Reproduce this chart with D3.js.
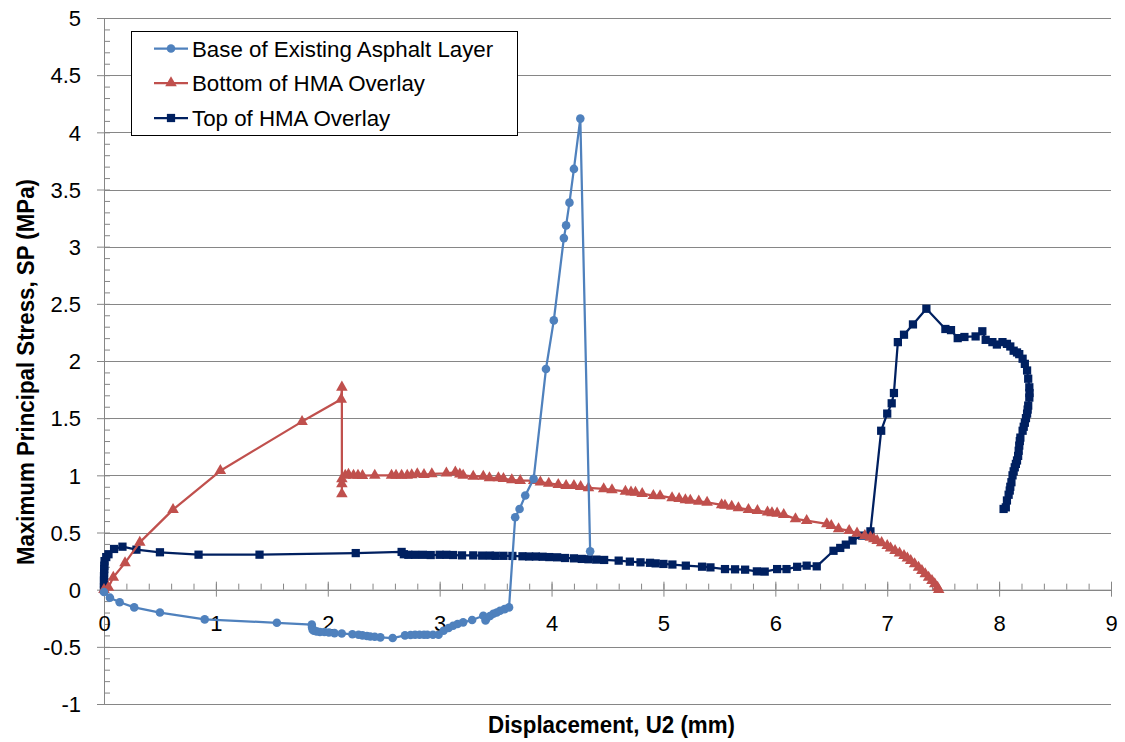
<!DOCTYPE html>
<html>
<head>
<meta charset="utf-8">
<script src="https://cdn.jsdelivr.net/npm/d3@7"></script>
<style>
  html, body { margin: 0; padding: 0; background: #fff; }
  svg { display: block; }
  text { font-family: "Liberation Sans", Arial, sans-serif; fill: #000; }
</style>
</head>
<body>
<svg id="chart" width="1125" height="742"></svg>
<script>
// ---------------- data ----------------
const seriesNames = ["Base of Existing Asphalt Layer", "Bottom of HMA Overlay", "Top of HMA Overlay"];
const seriesColors = ["#4F81BD", "#C0504D", "#002060"];

const xTicks = [0, 1, 2, 3, 4, 5, 6, 7, 8, 9];
const yTicks = [-1, -0.5, 0, 0.5, 1, 1.5, 2, 2.5, 3, 3.5, 4, 4.5, 5];
const xTickLabels = ["0", "1", "2", "3", "4", "5", "6", "7", "8", "9"];
const yTickLabels = ["-1", "-0.5", "0", "0.5", "1", "1.5", "2", "2.5", "3", "3.5", "4", "4.5", "5"];

// Base of Existing Asphalt Layer  [U2 (mm), SP (MPa)]
const baseLayer = [
  [0,-0.02],[0.053,-0.07],[0.14,-0.11],[0.27,-0.155],[0.5,-0.2],[0.9,-0.26],[1.545,-0.29],[1.857,-0.306],
  [1.86,-0.33],[1.865,-0.35],[1.875,-0.36],[1.9,-0.365],[1.93,-0.37],[1.97,-0.37],[2.01,-0.375],[2.06,-0.38],
  [2.125,-0.383],[2.22,-0.39],[2.275,-0.394],[2.31,-0.4],[2.35,-0.405],[2.38,-0.41],[2.42,-0.412],[2.47,-0.417],
  [2.58,-0.423],[2.69,-0.4],[2.74,-0.397],[2.78,-0.394],[2.82,-0.394],[2.86,-0.394],[2.89,-0.394],[2.94,-0.394],
  [2.99,-0.394],[3.035,-0.36],[3.08,-0.335],[3.12,-0.315],[3.16,-0.3],[3.21,-0.286],[3.29,-0.265],[3.39,-0.228],
  [3.41,-0.27],[3.42,-0.25],[3.45,-0.23],[3.48,-0.21],[3.51,-0.2],[3.54,-0.184],[3.58,-0.17],[3.62,-0.155],
  [3.675,0.633],[3.714,0.706],[3.765,0.823],[3.84,0.969],[3.95,1.93],[4.02,2.355],[4.11,3.075],[4.13,3.186],
  [4.16,3.385],[4.2,3.68],[4.257,4.12],[4.345,0.335]
];

// Bottom of HMA Overlay
const bottomOverlay = [
  [0,0],[0.04,0.02],[0.083,0.108],[0.188,0.234],[0.32,0.414],[0.617,0.70],[1.04,1.04],[1.77,1.47],[2.12,1.665],
  [2.126,1.77],[2.126,0.838],[2.126,0.925],[2.126,0.969],[2.156,1.0],[2.185,1.007],[2.23,1.0],[2.27,1.0],
  [2.31,0.997],[2.42,1.0],[2.57,1.0],[2.61,1.0],[2.66,1.0],[2.71,1.0],[2.75,1.003],[2.8,1.013],[2.86,1.005],
  [2.93,1.013],[3.06,1.018],[3.14,1.027],[3.18,1.01],[3.21,1.0],[3.30,0.99],[3.39,0.99],[3.445,0.977],
  [3.525,0.977],[3.57,0.97],[3.645,0.96],[3.72,0.954],[3.84,0.954],[3.9,0.94],[3.975,0.93],[4.06,0.919],
  [4.13,0.91],[4.2,0.91],[4.26,0.9],[4.33,0.89],[4.466,0.881],[4.54,0.873],[4.66,0.86],[4.71,0.853],
  [4.75,0.85],[4.81,0.84],[4.91,0.823],[4.97,0.82],[5.077,0.803],[5.14,0.795],[5.196,0.785],[5.24,0.78],
  [5.316,0.773],[5.39,0.764],[5.52,0.741],[5.55,0.737],[5.61,0.729],[5.67,0.715],[5.76,0.70],[5.84,0.69],
  [5.93,0.677],[5.97,0.672],[6.016,0.668],[6.075,0.656],[6.18,0.619],[6.28,0.604],[6.46,0.575],[6.5,0.56],
  [6.565,0.531],[6.66,0.516],[6.73,0.493],[6.8,0.472],[6.85,0.458],[6.88,0.443],[6.91,0.429],[6.95,0.41],
  [7.0,0.385],[7.03,0.362],[7.07,0.341],[7.11,0.32],[7.15,0.298],[7.18,0.276],[7.21,0.254],[7.245,0.225],
  [7.28,0.195],[7.31,0.166],[7.34,0.137],[7.37,0.108],[7.40,0.079],[7.425,0.05],[7.45,0.02],[7.46,0.0]
];

// Top of HMA Overlay
const topOverlay = [
  [0,0],[0,0.02],[0,0.05],[0,0.08],[0,0.12],[0.001,0.15],[0.002,0.18],[0.003,0.21],[0.005,0.25],[0.02,0.285],
  [0.04,0.31],[0.09,0.356],[0.165,0.376],[0.29,0.35],[0.5,0.327],[0.845,0.306],[1.39,0.306],[2.25,0.32],
  [2.66,0.33],[2.68,0.31],[2.72,0.305],[2.78,0.305],[2.85,0.305],[2.92,0.303],[3.0,0.305],[3.06,0.305],
  [3.12,0.303],[3.2,0.3],[3.3,0.3],[3.38,0.298],[3.45,0.298],[3.5,0.296],[3.57,0.296],[3.65,0.295],
  [3.74,0.292],[3.8,0.29],[3.86,0.29],[3.92,0.288],[3.98,0.285],[4.05,0.283],[4.12,0.277],[4.2,0.274],
  [4.27,0.269],[4.33,0.266],[4.4,0.263],[4.47,0.26],[4.6,0.254],[4.7,0.245],[4.795,0.239],[4.88,0.235],
  [4.93,0.23],[5.0,0.225],[5.08,0.22],[5.2,0.21],[5.345,0.201],[5.42,0.195],[5.55,0.18],[5.64,0.178],
  [5.73,0.175],[5.835,0.16],[5.905,0.158],[6.016,0.18],[6.1,0.18],[6.195,0.2],[6.28,0.21],[6.37,0.204],
  [6.52,0.34],[6.58,0.365],[6.63,0.394],[6.69,0.43],[6.776,0.473],[6.85,0.51],[6.946,1.39],[7.0,1.54],
  [7.04,1.63],[7.06,1.72],[7.095,2.165],[7.15,2.23],[7.23,2.32],[7.35,2.457],[7.52,2.28],[7.57,2.27],
  [7.63,2.2],[7.69,2.21],[7.79,2.215],[7.85,2.26],[7.88,2.185],[7.94,2.165],[7.98,2.144],[8.03,2.165],
  [8.07,2.15],[8.1,2.127],[8.13,2.09],[8.16,2.075],[8.18,2.06],[8.21,2.02],[8.23,1.975],[8.25,1.917],
  [8.26,1.845],[8.27,1.77],[8.272,1.72],[8.27,1.68],[8.26,1.61],[8.255,1.575],[8.25,1.54],[8.24,1.5],
  [8.23,1.46],[8.22,1.425],[8.21,1.39],[8.19,1.33],[8.185,1.3],[8.18,1.26],[8.175,1.215],[8.17,1.17],
  [8.16,1.13],[8.15,1.1],[8.14,1.07],[8.13,1.035],[8.12,1.0],[8.11,0.94],[8.1,0.9],[8.095,0.867],
  [8.085,0.83],[8.07,0.78],[8.06,0.72],[8.04,0.706]
];

const allSeries = [baseLayer, bottomOverlay, topOverlay];

// ---------------- layout ----------------
const svg = d3.select("#chart");
const x = d3.scaleLinear().domain([0, 9]).range([104, 1111]);
const y = d3.scaleLinear().domain([-1, 5]).range([704, 18]);
const gridColor = "#868686";

// gridlines
svg.append("g").selectAll("line").data(yTicks).join("line")
  .attr("x1", x(0)).attr("x2", x(9))
  .attr("y1", d => Math.round(y(d)) + 0.5).attr("y2", d => Math.round(y(d)) + 0.5)
  .attr("stroke", gridColor).attr("stroke-width", 1);

// y axis: major ticks outside with labels, minor ticks inside
const yMinor = d3.range(-10, 51).map(v => v / 10);
const yAxisG = svg.append("g").attr("transform", `translate(${x(0)},0)`)
  .call(d3.axisLeft(y).tickValues(yTicks).tickSizeInner(7).tickSizeOuter(0).tickPadding(16)
    .tickFormat((d, i) => yTickLabels[i]));
svg.append("g").attr("transform", `translate(${x(0)},0)`)
  .call(d3.axisLeft(y).tickValues(yMinor).tickSizeInner(-6).tickSizeOuter(0).tickFormat(""))
  .call(g => g.select(".domain").remove());

// x axis at y = 0
const xMinor = d3.range(0, 46).map(v => v / 5);
const xAxisG = svg.append("g").attr("transform", `translate(0,${y(0)})`)
  .call(d3.axisBottom(x).tickValues(xTicks).tickSizeInner(7).tickSizeOuter(0)
    .tickFormat((d, i) => xTickLabels[i]));
svg.append("g").attr("transform", `translate(0,${y(0)})`)
  .call(d3.axisBottom(x).tickValues(xMinor).tickSizeInner(-6).tickSizeOuter(0).tickFormat(""))
  .call(g => g.select(".domain").remove());
svg.append("g").attr("transform", `translate(0,${y(0)})`)
  .call(d3.axisBottom(x).tickValues(xTicks).tickSizeInner(-8).tickSizeOuter(0).tickFormat(""))
  .call(g => g.select(".domain").remove());

svg.selectAll(".domain, .tick line").attr("stroke", gridColor).attr("stroke-width", 1);
svg.selectAll(".tick text").attr("fill", "#000").style("font-size", "22px")
  .style("font-family", '"Liberation Sans", Arial, sans-serif');
xAxisG.selectAll(".tick text").attr("y", 41).attr("dy", 0);
yAxisG.selectAll(".tick text").attr("dy", "0.35em");

// axis titles
svg.append("text")
  .attr("x", 611.5).attr("y", 733)
  .attr("text-anchor", "middle")
  .style("font-size", "23px").style("font-weight", "bold")
  .attr("textLength", 247).attr("lengthAdjust", "spacingAndGlyphs")
  .text("Displacement, U2 (mm)");
svg.append("text")
  .attr("transform", "translate(34,372) rotate(-90)")
  .attr("text-anchor", "middle")
  .style("font-size", "23px").style("font-weight", "bold")
  .attr("textLength", 386).attr("lengthAdjust", "spacingAndGlyphs")
  .text("Maximum Principal Stress, SP (MPa)");

// series
const line = d3.line().x(d => x(d[0])).y(d => y(d[1]));
const symbols = [d3.symbolCircle, d3.symbolTriangle, d3.symbolSquare];
const symbolSizes = [58, 58, 68];
const drawOrder = [2, 1, 0];
drawOrder.forEach(i => {
  const g = svg.append("g");
  g.append("path").datum(allSeries[i]).attr("d", line)
    .attr("fill", "none").attr("stroke", seriesColors[i]).attr("stroke-width", 2.25)
    .attr("stroke-linejoin", "round");
  g.selectAll("path.m").data(allSeries[i]).join("path").attr("class", "m")
    .attr("transform", d => `translate(${x(d[0])},${y(d[1])})`)
    .attr("d", d3.symbol().type(symbols[i]).size(symbolSizes[i]))
    .attr("fill", seriesColors[i]);
});

// legend
const lg = svg.append("g");
lg.append("rect").attr("x", 131.5).attr("y", 31.5).attr("width", 386).attr("height", 104)
  .attr("fill", "#fff").attr("stroke", "#000").attr("stroke-width", 1);
const rowsY = [48.5, 83, 118];
seriesNames.forEach((name, i) => {
  lg.append("line").attr("x1", 154).attr("x2", 188).attr("y1", rowsY[i]).attr("y2", rowsY[i])
    .attr("stroke", seriesColors[i]).attr("stroke-width", 2.25);
  lg.append("path").attr("transform", `translate(171,${rowsY[i]})`)
    .attr("d", d3.symbol().type(symbols[i]).size(symbolSizes[i])).attr("fill", seriesColors[i]);
  lg.append("text").attr("x", 192).attr("y", rowsY[i]).attr("dy", "0.36em")
    .style("font-size", "22.3px").text(name);
});
</script>
</body>
</html>
